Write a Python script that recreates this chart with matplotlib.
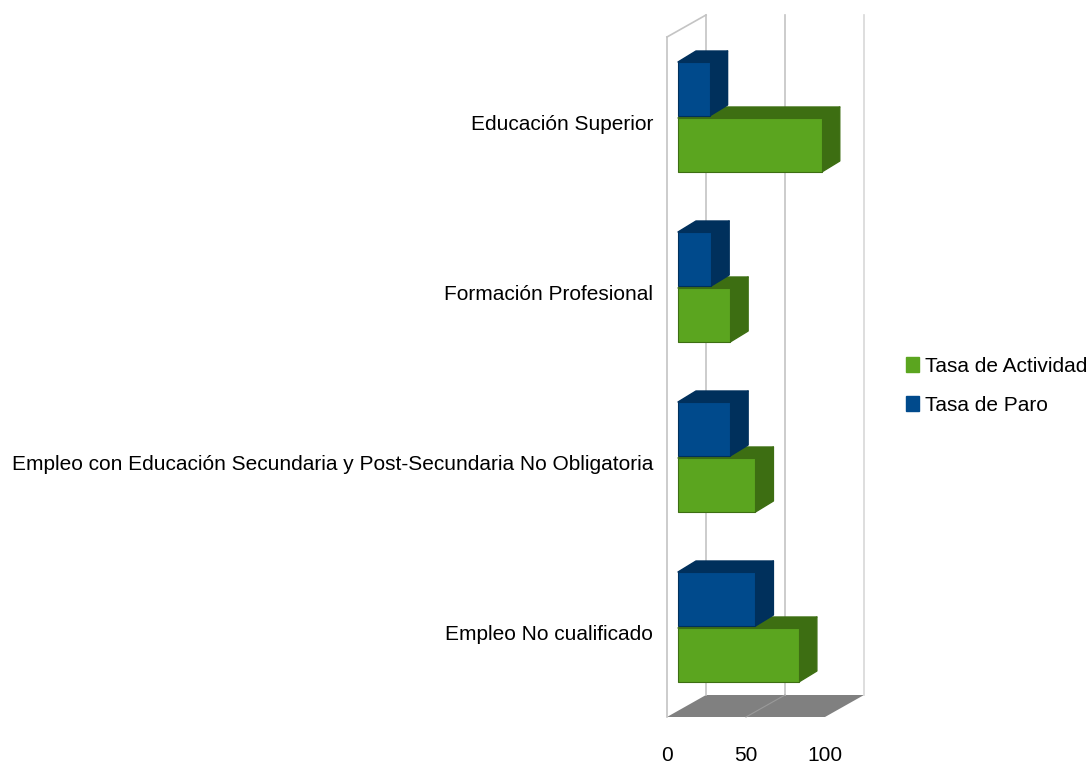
import matplotlib
matplotlib.use("Agg")
import matplotlib.pyplot as plt
from matplotlib.patches import Polygon, Patch

plt.rcParams["font.family"] = ["Liberation Sans", "DejaVu Sans"]

categories = [
    "Empleo No cualificado",
    "Empleo con Educación Secundaria y Post-Secundaria No Obligatoria",
    "Formación Profesional",
    "Educación Superior",
]
actividad = [76.5, 49, 33, 91]
paro = [49, 33, 21, 20]
ticks = [0, 50, 100]

green, green_dark = "#5ba51f", "#3d6e12"
blue, blue_dark = "#004a8c", "#00305c"
W, H = 1090, 764

fig = plt.figure(figsize=(W / 100, H / 100), dpi=100)
# front plane of the fake 3d box
ax = fig.add_axes([667 / W, 1 - 717 / H, 158 / W, 680 / H])
ax.set_xlim(0, 100)
ax.set_ylim(-0.5, 3.5)
for s in ax.spines.values():
    s.set_visible(False)
ax.patch.set_alpha(0)

ux = 158 / 100    # px per value
uy = 680 / 4      # px per category
box_dx, box_dy = 39 / ux, 22 / uy
inset_x, inset_y = 11 / ux, 5 / uy
bar_dx, bar_dy = 18 / ux, 11 / uy
bar_h = 54 / uy
gap = 2 / uy


def poly(pts, color, z, edge="none"):
    ax.add_patch(Polygon(pts, closed=True, facecolor=color, edgecolor=edge, linewidth=1.0,
                         joinstyle="round", zorder=z, clip_on=False))


# floor
poly([(0, -0.5), (100, -0.5), (100 + box_dx, -0.5 + box_dy), (box_dx, -0.5 + box_dy)], "#808080", 1)
ax.plot([50, 50 + box_dx], [-0.5, -0.5 + box_dy], color="#9a9a9a", lw=0.8, zorder=1.5, clip_on=False)

# walls
grid_cols = ["#c4c4c4", "#c4c4c4", "#d8d8d8"]
for t, c in zip(ticks, grid_cols):
    ax.plot([t + box_dx] * 2, [-0.5 + box_dy, 3.5 + box_dy], color=c, lw=1.2, zorder=1, clip_on=False)
ax.plot([0, 0], [-0.5, 3.5], color="#c4c4c4", lw=1.2, zorder=1, clip_on=False)
ax.plot([0, box_dx], [3.5, 3.5 + box_dy], color="#c4c4c4", lw=1.2, zorder=1, clip_on=False)


def draw_bars(values, offset, color, dark, z):
    for i, v in enumerate(values):
        y0 = i + offset + inset_y - bar_h / 2
        y1 = y0 + bar_h
        x0 = inset_x
        x1 = inset_x + v
        poly([(x0, y1), (x1, y1), (x1 + bar_dx, y1 + bar_dy), (x0 + bar_dx, y1 + bar_dy)], dark, z, dark)
        poly([(x1, y0), (x1 + bar_dx, y0 + bar_dy), (x1 + bar_dx, y1 + bar_dy), (x1, y1)], dark, z, dark)
        ax.barh(i + offset + inset_y, v, height=bar_h, left=inset_x, color=color,
                edgecolor=dark, linewidth=0.8, zorder=z + 0.1, clip_on=False)


shift = (bar_h + gap) / 2
# blue sits in front of the green top face
draw_bars(actividad, -shift, green, green_dark, 2)
draw_bars(paro, shift, blue, blue_dark, 3)

ax.set_xticks(ticks)
ax.set_xticklabels([str(t) for t in ticks])
ax.set_yticks(range(len(categories)))
ax.set_yticklabels(categories)
ax.tick_params(axis="x", length=0, pad=21, labelsize=15, labelcolor="black")
ax.tick_params(axis="y", length=0, pad=10, labelsize=15, labelcolor="black")

fig.legend(
    handles=[Patch(color=green, label="Tasa de Actividad"), Patch(color=blue, label="Tasa de Paro")],
    loc="center left", bbox_to_anchor=(906 / W, 1 - 386 / H), frameon=False,
    fontsize=15, handlelength=0.62, handleheight=0.72, handletextpad=0.29, labelspacing=0.95,
    borderpad=0, borderaxespad=0,
)

fig.savefig("out.png", dpi=100)
